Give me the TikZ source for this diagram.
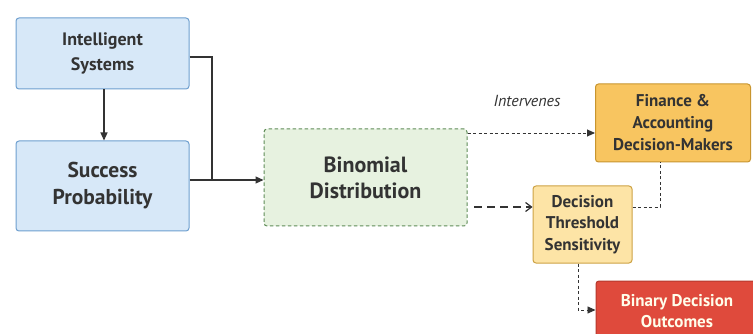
\documentclass[tikz,border=0pt]{standalone}
\usepackage{fontspec}
\setmainfont{PT Sans}
\usetikzlibrary{arrows.meta,positioning}
\definecolor{bluefill}{HTML}{D7E8F8}
\definecolor{blueline}{HTML}{6E9FCF}
\definecolor{greenfill}{HTML}{E7F2E0}
\definecolor{greenline}{HTML}{5F8C58}
\definecolor{orfill}{HTML}{F8C560}
\definecolor{orline}{HTML}{C8952F}
\definecolor{yefill}{HTML}{FDE4A6}
\definecolor{yeline}{HTML}{CDA244}
\definecolor{redfill}{HTML}{DF4A3C}
\definecolor{redline}{HTML}{B5392D}
\definecolor{ink}{HTML}{333333}
\tikzset{
  box/.style={rectangle, rounded corners=3pt, line width=1pt, align=center, text=ink, font=\bfseries, inner sep=0pt},
  bluebox/.style={box, fill=bluefill, draw=blueline},
  solidarrow/.style={draw=ink, line width=1.1pt, -{Triangle[length=8pt,width=7pt]}},
  dashlink/.style={draw=ink, line width=0.9pt, dash pattern=on 3pt off 2.5pt},
}
\begin{document}
\begin{tikzpicture}[x=1pt,y=-1pt]
\clip (0,0) rectangle (753,334);
\fill[white] (0,0) rectangle (753,334);
\node[bluebox, minimum width=173pt, minimum height=71pt, font=\fontsize{18}{25}\selectfont\bfseries] (is) at (102.5,53.5) {Intelligent\\Systems};
\node[bluebox, minimum width=173pt, minimum height=90pt, font=\fontsize{21.5}{27}\selectfont\bfseries] (sp) at (102.5,186) {Success\\Probability};
\node[box, fill=greenfill, draw=greenline, dash pattern=on 3.5pt off 2.5pt, minimum width=203pt, minimum height=97pt, font=\fontsize{22}{26}\selectfont\bfseries] (bd) at (365.5,177.5) {Binomial\\Distribution};
\node[box, fill=orfill, draw=orline, minimum width=155pt, minimum height=78pt, font=\fontsize{17}{22}\selectfont\bfseries] (fa) at (673,123) {Finance \&\\Accounting\\Decision-Makers};
\node[box, fill=yefill, draw=yeline, minimum width=99pt, minimum height=77pt, font=\fontsize{17}{21.5}\selectfont\bfseries] (dt) at (582.5,224.5) {Decision\\Threshold\\Sensitivity};
\node[box, fill=redfill, draw=redline, minimum width=170pt, minimum height=70pt] (bo) at (681,316) {};
\node[font=\fontsize{17}{21}\selectfont\bfseries, text=white!92!yellow, align=center] (bot) at (677,311) {Binary Decision\\Outcomes};
\node[font=\fontsize{16}{18}\selectfont\itshape, text=ink] (lab) at (527,101) {Intervenes};
% connectors
\draw[solidarrow] (is.south -| 104,0) -- (sp.north -| 104,0);
\coordinate (j1) at (212,57);
\coordinate (j2) at (212,180);
\draw[draw=ink, line width=1.1pt] (is.east |- j1) -- (j1) -- (j2);
\draw[solidarrow] (sp.east |- j2) -- (bd.west |- j2);
\draw[dashlink, -{Triangle[length=8pt,width=7pt]}] (bd.east |- 0,133) -- (fa.west |- 0,133);
\draw[draw=ink, line width=1.2pt, dash pattern=on 8pt off 5pt, -{Straight Barb[length=6pt,width=9pt]}] (474,207) -- (dt.west |- 0,207);
\coordinate (c1) at (660,207);
\draw[dashlink] (dt.east |- c1) -- (c1) -- (c1 |- fa.south);
\coordinate (c2) at (578,310);
\draw[dashlink, -{Triangle[length=8pt,width=7pt]}] (dt.south -| c2) -- (c2) -- (bo.west |- c2);
\end{tikzpicture}
\end{document}
